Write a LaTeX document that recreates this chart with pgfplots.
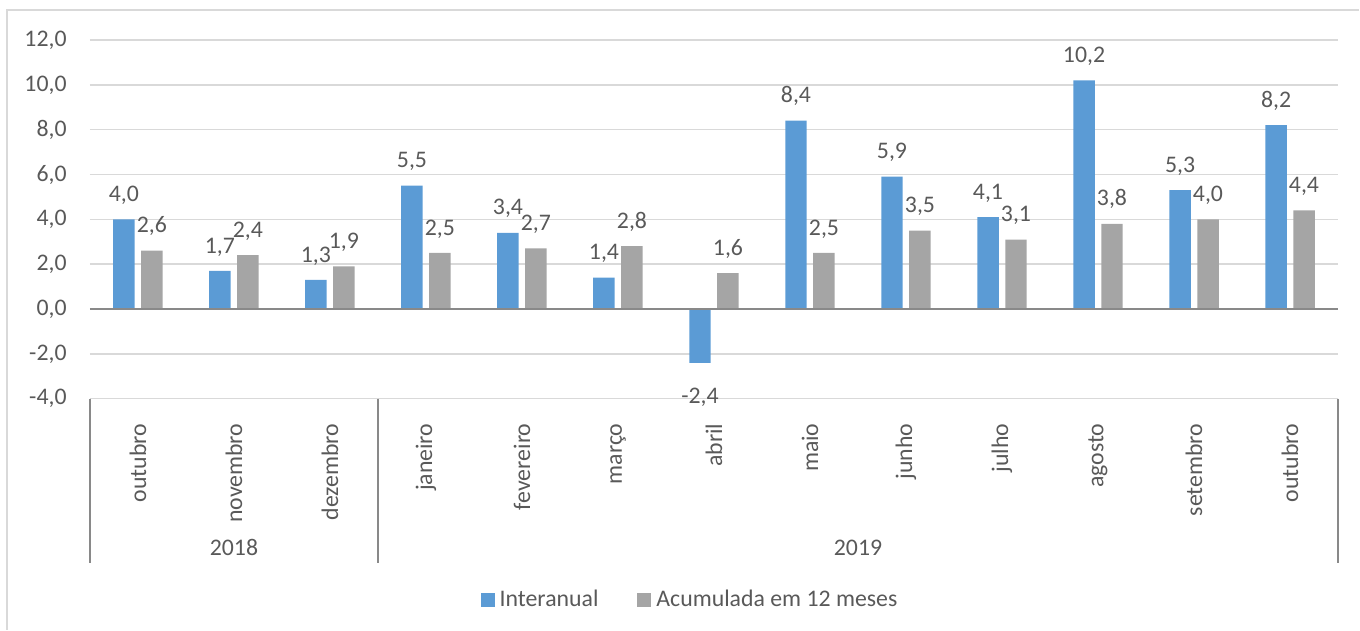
\documentclass[border=0pt]{standalone}
\usepackage{pgfplots}
\pgfplotsset{compat=1.18}
\usepackage{fontspec}
\setmainfont{Carlito}
\definecolor{cblue}{HTML}{5B9BD5}
\definecolor{cgray}{HTML}{A5A5A5}
\definecolor{ctext}{HTML}{595959}
\definecolor{cgrid}{HTML}{D9D9D9}
\definecolor{caxis}{HTML}{898989}
\begin{document}
\begin{tikzpicture}[font=\fontsize{11.9bp}{14bp}\selectfont, text=ctext]
\path (0,0) rectangle (680bp,315bp);
\draw[cgrid, line width=1bp] (3.5bp,0) -- (3.5bp,310bp) -- (680bp,310bp);
\begin{axis}[
  at={(45bp,115.5bp)}, anchor=south west,
  scale only axis, width=624.5bp, height=179.5bp,
  xmin=-0.5, xmax=12.5, ymin=-4, ymax=12,
  ytick={-4,-2,...,12},
  xtick={0,...,12},
  xticklabels={outubro,novembro,dezembro,janeiro,fevereiro,março,abril,maio,junho,julho,agosto,setembro,outubro},
  xticklabel style={rotate=90, anchor=east, inner xsep=8bp, inner ysep=0pt},
  yticklabel style={anchor=east, inner xsep=11.5bp},
  tick style={draw=none},
  axis line style={draw=none},
  ymajorgrids, major grid style={cgrid, line width=0.75bp},
  clip=false,
  ybar=3.25bp, bar width=10.75bp,
  /pgf/number format/use comma,
  /pgf/number format/fixed,
  /pgf/number format/fixed zerofill,
  /pgf/number format/precision=1,
  /pgf/number format/assume math mode=true,
  nodes near coords,
  visualization depends on={y \as \rawy},
  every node near coord/.append style={inner ysep=7.2bp, text=ctext,
    yshift={(\rawy<0)*(-5bp)}},
  legend style={at={(0.482,-0.56)}, anchor=center, draw=none, fill=none,
    legend columns=2, /tikz/every even column/.append style={column sep=17bp},
    nodes={inner xsep=2.5bp}},
  legend image code/.code={\fill[#1] (0bp,-3.5bp) rectangle (7bp,3.5bp);},
]
\addplot[fill=cblue, draw=none] coordinates {
  (0,4.0) (1,1.7) (2,1.3) (3,5.5) (4,3.4) (5,1.4) (6,-2.4)
  (7,8.4) (8,5.9) (9,4.1) (10,10.2) (11,5.3) (12,8.2)};
\addlegendentry{Interanual}
\addplot[fill=cgray, draw=none] coordinates {
  (0,2.6) (1,2.4) (2,1.9) (3,2.5) (4,2.7) (5,2.8) (6,1.6)
  (7,2.5) (8,3.5) (9,3.1) (10,3.8) (11,4.0) (12,4.4)};
\addlegendentry{Acumulada em 12 meses}
\draw[caxis, line width=0.75bp] (axis cs:-0.5,0) -- (axis cs:12.5,0);
\draw[caxis, line width=0.75bp] (axis cs:-0.5,-4) -- ([yshift=-82bp]axis cs:-0.5,-4);
\draw[caxis, line width=0.75bp] (axis cs:2.5,-4) -- ([yshift=-82bp]axis cs:2.5,-4);
\draw[caxis, line width=0.75bp] (axis cs:12.5,-4) -- ([yshift=-82bp]axis cs:12.5,-4);
\node[yshift=-74.5bp] at (axis cs:1,-4) {2018};
\node[yshift=-74.5bp] at (axis cs:7.5,-4) {2019};
\end{axis}
\end{tikzpicture}
\end{document}
